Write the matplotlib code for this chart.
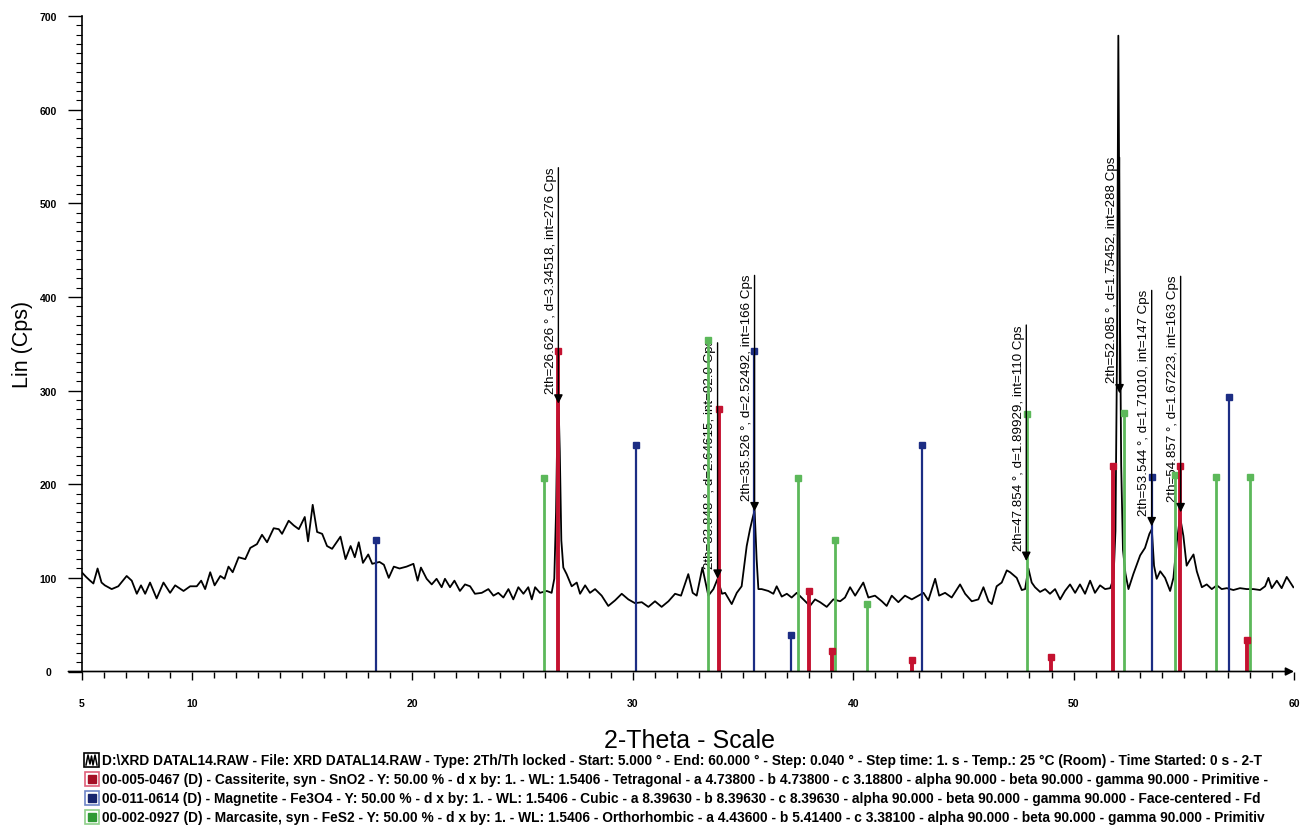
import matplotlib
matplotlib.use('Agg')
import matplotlib.pyplot as plt
from matplotlib.patches import Rectangle
from matplotlib.ticker import FixedLocator, MultipleLocator

plt.rcParams['font.family'] = ['Liberation Sans', 'DejaVu Sans']

two_theta = [5.0, 5.2, 5.38, 5.53, 5.72, 5.9, 6.05, 6.36, 6.66, 7.04, 7.27, 7.5, 7.69, 7.88, 8.1, 8.4, 8.71,
             9.01, 9.24, 9.62, 9.92, 10.22, 10.42, 10.6, 10.83, 11.03, 11.29, 11.48, 11.66, 11.85, 12.12,
             12.42, 12.65, 12.95, 13.18, 13.41, 13.71, 13.94, 14.09, 14.39, 14.62, 14.85, 15.12, 15.27,
             15.48, 15.68, 15.91, 16.13, 16.36, 16.74, 16.97, 17.2, 17.39, 17.57, 17.76, 18.0, 18.18, 18.51,
             18.71, 18.93, 19.16, 19.42, 19.74, 20.05, 20.24, 20.39, 20.65, 20.88, 21.1, 21.33, 21.48, 21.71,
             21.91, 22.16, 22.39, 22.62, 22.84, 23.15, 23.45, 23.68, 23.9, 24.13, 24.36, 24.58, 24.81, 25.04,
             25.26, 25.42, 25.57, 25.79, 26.1, 26.32, 26.44, 26.52, 26.58, 26.63, 26.69, 26.76, 26.85, 27.0,
             27.23, 27.46, 27.61, 27.84, 28.06, 28.29, 28.59, 28.89, 29.2, 29.5, 29.8, 30.1, 30.41, 30.71,
             31.01, 31.31, 31.62, 31.92, 32.19, 32.52, 32.72, 32.9, 33.16, 33.43, 33.66, 33.85, 34.05, 34.19,
             34.49, 34.72, 34.94, 35.17, 35.32, 35.45, 35.53, 35.62, 35.7, 35.85, 36.15, 36.38, 36.53, 36.76,
             36.99, 37.21, 37.44, 37.74, 38.04, 38.27, 38.5, 38.8, 39.1, 39.41, 39.63, 39.86, 40.09, 40.46,
             40.69, 40.99, 41.3, 41.52, 41.75, 42.05, 42.35, 42.66, 42.96, 43.19, 43.41, 43.72, 43.9, 44.17,
             44.47, 44.85, 45.08, 45.38, 45.68, 45.91, 46.14, 46.29, 46.51, 46.74, 46.97, 47.12, 47.42, 47.65,
             47.8, 47.95, 48.1, 48.25, 48.48, 48.71, 48.93, 49.16, 49.39, 49.61, 49.84, 50.07, 50.29, 50.52,
             50.75, 50.97, 51.2, 51.43, 51.66, 51.81, 51.9, 51.97, 52.03, 52.09, 52.16, 52.24, 52.35, 52.49,
             52.71, 53.02, 53.24, 53.44, 53.55, 53.65, 53.77, 53.93, 54.15, 54.38, 54.53, 54.68, 54.83, 54.98,
             55.13, 55.25, 55.44, 55.59, 55.82, 56.04, 56.27, 56.5, 56.72, 56.95, 57.25, 57.55, 57.86, 58.16,
             58.46, 58.69, 58.84, 58.99, 59.22, 59.44, 59.67, 59.97]
counts = [106, 101, 97, 94, 110, 95, 92, 88, 91, 102, 97, 83, 92, 83, 95, 78, 95,
          84, 92, 86, 91, 91, 97, 88, 106, 92, 102, 99, 112, 106, 122,
          120, 132, 136, 146, 138, 153, 152, 147, 161, 156, 152, 165, 139,
          178, 149, 147, 134, 131, 144, 120, 134, 122, 138, 116, 125, 115, 117,
          114, 100, 112, 110, 112, 115, 97, 111, 99, 93, 99, 90, 99, 90,
          97, 86, 93, 91, 83, 84, 88, 81, 84, 79, 88, 77, 90, 83,
          90, 77, 90, 84, 86, 84, 99, 170, 262, 290, 235, 140, 111, 104,
          91, 95, 83, 92, 84, 88, 81, 70, 76, 83, 77, 73, 74, 69,
          75, 69, 75, 83, 81, 104, 84, 81, 111, 81, 88, 99, 83, 84,
          72, 84, 91, 134, 152, 165, 172, 120, 88, 88, 86, 83, 91, 80,
          83, 79, 84, 77, 70, 77, 74, 69, 77, 75, 79, 90, 81, 95,
          79, 81, 75, 70, 81, 74, 81, 77, 81, 84, 76, 99, 81, 84,
          79, 93, 83, 75, 77, 90, 75, 72, 91, 95, 108, 106, 100, 87,
          88, 110, 95, 90, 85, 88, 83, 88, 77, 86, 93, 84, 93, 83,
          97, 84, 92, 88, 89, 99, 150, 340, 679, 430, 220, 130, 105, 88,
          104, 124, 132, 147, 152, 113, 99, 107, 100, 86, 100, 138, 165, 145,
          113, 118, 125, 107, 90, 93, 88, 92, 88, 89, 87, 89, 88, 88,
          87, 91, 100, 89, 97, 89, 101, 90]

# reference patterns (stick positions and heights)
cass_pos = [26.63, 33.92, 38.01, 39.03, 42.66, 48.98, 51.81, 54.83, 57.89]
cass_int = [342, 280, 86, 22, 12, 16, 219, 219, 34]
magn_pos = [18.35, 30.13, 35.52, 37.18, 43.14, 53.55, 57.07]
magn_int = [140, 242, 342, 39, 242, 208, 293]
marc_pos = [25.99, 33.43, 37.48, 39.18, 40.65, 47.87, 52.29, 54.61, 56.47, 58.01]
marc_int = [207, 354, 207, 140, 72, 275, 276, 210, 208, 208]

# peak labels
peak_pos = [26.626, 33.848, 35.526, 47.854, 52.085, 53.544, 54.857]
peak_tip = [286, 99, 171, 118, 297, 155, 170]
peak_text = ['2th=26.626 °, d=3.34518, int=276 Cps',
             '2th=33.848 °, d=2.64615, int=92.0 Cps',
             '2th=35.526 °, d=2.52492, int=166 Cps',
             '2th=47.854 °, d=1.89929, int=110 Cps',
             '2th=52.085 °, d=1.75452, int=288 Cps',
             '2th=53.544 °, d=1.71010, int=147 Cps',
             '2th=54.857 °, d=1.67223, int=163 Cps']

legend_lines = [r'D:\XRD DATAL14.RAW - File: XRD DATAL14.RAW - Type: 2Th/Th locked - Start: 5.000 ° - End: 60.000 ° - Step: 0.040 ° - Step time: 1. s - Temp.: 25 °C (Room) - Time Started: 0 s - 2-T',
                '00-005-0467 (D) - Cassiterite, syn - SnO2 - Y: 50.00 % - d x by: 1. - WL: 1.5406 - Tetragonal - a 4.73800 - b 4.73800 - c 3.18800 - alpha 90.000 - beta 90.000 - gamma 90.000 - Primitive -',
                '00-011-0614 (D) - Magnetite - Fe3O4 - Y: 50.00 % - d x by: 1. - WL: 1.5406 - Cubic - a 8.39630 - b 8.39630 - c 8.39630 - alpha 90.000 - beta 90.000 - gamma 90.000 - Face-centered - Fd',
                '00-002-0927 (D) - Marcasite, syn - FeS2 - Y: 50.00 % - d x by: 1. - WL: 1.5406 - Orthorhombic - a 4.43600 - b 5.41400 - c 3.38100 - alpha 90.000 - beta 90.000 - gamma 90.000 - Primitiv']

red = '#c41230'
blue = '#1c2d84'
green = '#5cb85a'
icon_edge = ['black', '#e0607a', '#6f86c8', '#8fd08a']
icon_fill = ['black', '#a50f25', '#16246e', '#2f9a35']

W, H = 1311, 828
fig = plt.figure(figsize=(W / 100, H / 100), dpi=100)
ax = fig.add_axes([81.7 / W, 1 - 672.5 / H, (1294 - 81.7) / W, (672.5 - 17) / H])

ax.plot(two_theta, counts, color='black', lw=1.3, zorder=2)

for pos, hts, col, lw in [(marc_pos, marc_int, green, 2.0), (magn_pos, magn_int, blue, 1.6), (cass_pos, cass_int, red, 2.8)]:
    ax.vlines(pos, 0, hts, colors=col, lw=lw, zorder=3)
    ax.plot(pos, hts, 's', color=col, ms=4, zorder=3)

label_len = 252
for x, tip, txt in zip(peak_pos, peak_tip, peak_text):
    ax.annotate('', xy=(x, tip), xytext=(x, tip + label_len),
                arrowprops=dict(arrowstyle='-|>', color='black', lw=1.0, mutation_scale=13, shrinkA=0, shrinkB=0), zorder=4)
    ax.annotate(txt, xy=(x, tip), xytext=(-1, 8), textcoords='offset points', rotation=90,
                ha='right', va='bottom', fontsize=9.6, zorder=2)

ax.set_xlim(5, 60)
ax.set_ylim(0, 700)
for s in ['top', 'right', 'bottom']:
    ax.spines[s].set_visible(False)
ax.spines['left'].set_linewidth(1.2)

# x axis with arrow, sticking out a little to the left
ax.annotate('', xy=(1.0, 0), xytext=(-0.011, 0), xycoords='axes fraction',
            arrowprops=dict(arrowstyle='-|>', color='black', lw=1.2, mutation_scale=12, shrinkA=0, shrinkB=0),
            annotation_clip=False)

ax.xaxis.set_major_locator(FixedLocator([5, 10, 20, 30, 40, 50, 60]))
ax.xaxis.set_minor_locator(MultipleLocator(1))
ax.yaxis.set_major_locator(MultipleLocator(100))
ax.yaxis.set_minor_locator(MultipleLocator(10))
ax.tick_params(axis='x', which='major', length=6, width=1, pad=13, labelsize=7.5)
ax.tick_params(axis='x', which='minor', length=4, width=1)
ax.tick_params(axis='y', which='major', length=10, width=1, pad=14, labelsize=7.5)
ax.tick_params(axis='y', which='minor', length=4, width=0.8)
for lab in ax.get_yticklabels():
    lab.set_ha('center')
for lab in ax.get_xticklabels() + ax.get_yticklabels():
    lab.set_fontweight('bold')

ax.set_ylabel('Lin (Cps)', fontsize=15.5, labelpad=5)
fig.text(690 / W, 1 - 741 / H, '2-Theta - Scale', fontsize=18, ha='center', va='center')

# legend block under the plot
rows_y = [761, 780, 799, 818]
for i, (txt, yy) in enumerate(zip(legend_lines, rows_y)):
    fig.text(101.5 / W, 1 - yy / H, txt, fontsize=9.95, fontweight='bold', ha='left', va='center')
    if i == 0:
        fig.patches.append(Rectangle((84 / W, 1 - (yy + 7) / H), 15 / W, 14 / H, transform=fig.transFigure,
                                     fill=False, ec='black', lw=1.2))
        wx = [86, 88, 90, 91.5, 93, 95, 97]
        wy = [yy + 5, yy - 5, yy + 4, yy - 4, yy + 5, yy - 5, yy + 5]
        fig.add_artist(plt.Line2D([v / W for v in wx], [1 - v / H for v in wy], color='black', lw=1.1))
    else:
        fig.patches.append(Rectangle((85 / W, 1 - (yy + 7) / H), 14 / W, 14 / H, transform=fig.transFigure,
                                     fill=False, ec=icon_edge[i], lw=1.2))
        fig.patches.append(Rectangle((88 / W, 1 - (yy + 4) / H), 8 / W, 8 / H, transform=fig.transFigure,
                                     color=icon_fill[i]))

fig.savefig('out.png', dpi=100)
